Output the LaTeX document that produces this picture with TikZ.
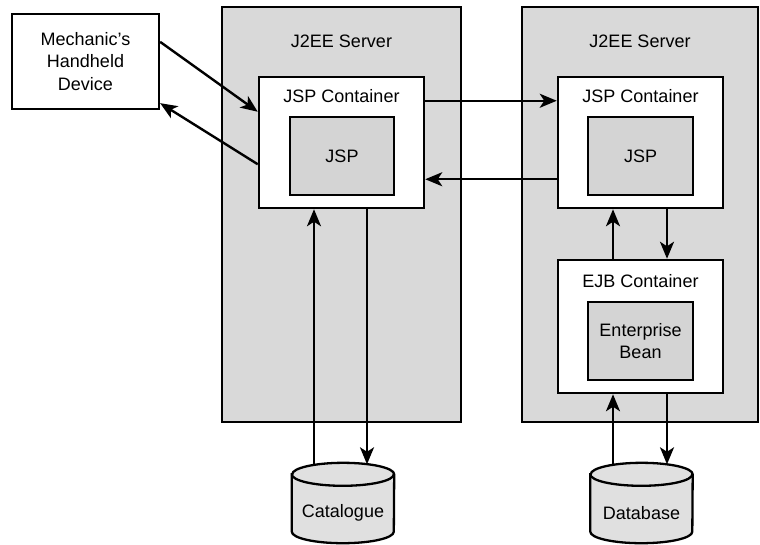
\documentclass[tikz,border=0pt]{standalone}
\usepackage{fontspec}
\setmainfont{Liberation Sans}
\usetikzlibrary{arrows.meta}
\definecolor{srvgray}{gray}{0.85}
\definecolor{boxgray}{gray}{0.83}
\definecolor{dbgray}{gray}{0.88}
\tikzset{
  lbl/.style={inner sep=0pt, font=\fontsize{18}{22.5}\selectfont, align=center},
  server/.style={draw, line width=2.3pt, fill=srvgray, inner sep=0pt},
  container/.style={draw, line width=2.5pt, fill=white, inner sep=0pt},
  comp/.style={draw, line width=2.5pt, fill=boxgray, inner sep=0pt, font=\fontsize{18}{22.5}\selectfont, align=center},
  device/.style={draw, line width=2.3pt, fill=white, inner sep=0pt, font=\fontsize{18}{22.5}\selectfont, align=center},
  dbbox/.style={inner sep=0pt, minimum width=102pt, minimum height=80pt},
  cyl/.style={draw, line width=2.3pt, fill=dbgray},
  arr/.style={line width=2.4pt, -{Stealth[length=17pt, width=14pt, inset=4.5pt]}},
}
\begin{document}
\begin{tikzpicture}[x=1pt, y=-1pt]
  \useasboundingbox (0,0) rectangle (760,544);

  % application servers
  \node[server, minimum width=239pt, minimum height=415pt] (lsrv) at (341.5,214.5) {};
  \node[server, minimum width=236pt, minimum height=415pt] (rsrv) at (640,214.5) {};
  \node[lbl] (lsrvt) at (341.5,41) {J2EE Server};
  \node[lbl] (rsrvt) at (640,41) {J2EE Server};

  % client device
  \node[device, minimum width=147pt, minimum height=95pt] (dev) at (85.5,61.5)
    {Mechanic’s\\Handheld\\Device};

  % JSP containers
  \node[container, minimum width=165pt, minimum height=131pt] (lcont) at (341.5,142.5) {};
  \node[lbl] (lcontt) at (341.5,96) {JSP Container};
  \node[comp, minimum width=104pt, minimum height=78pt] (ljsp) at (342,156) {JSP};

  \node[container, minimum width=165pt, minimum height=131pt] (rcont) at (640.5,142.5) {};
  \node[lbl] (rcontt) at (640.5,96) {JSP Container};
  \node[comp, minimum width=105pt, minimum height=78pt] (rjsp) at (640.5,156) {JSP};

  % EJB container
  \node[container, minimum width=165pt, minimum height=133pt] (ejb) at (640.5,326.5) {};
  \node[lbl] (ejbt) at (640.5,281) {EJB Container};
  \node[comp, minimum width=105pt, minimum height=78pt] (bean) at (640.5,341)
    {Enterprise\\Bean};

  % data stores
  \node[dbbox] (cat) at (343,503) {};
  \node[dbbox] (db) at (641.5,503) {};
  \foreach \n in {cat,db}{
    \draw[cyl] ([yshift=-11.5pt]\n.north west)
      -- ([yshift=11.5pt]\n.south west)
      arc[start angle=180, end angle=360, x radius=51pt, y radius=11.5pt]
      -- ([yshift=-11.5pt]\n.north east)
      arc[start angle=0, end angle=180, x radius=51pt, y radius=11.5pt]
      -- cycle;
    \draw[line width=2.3pt] ([yshift=-11.5pt]\n.north west)
      arc[start angle=180, end angle=360, x radius=51pt, y radius=11.5pt];
  }
  \node[lbl] (catt) at (343,513) {Catalogue};
  \node[lbl] (dbt) at (641.5,513) {Database};

  % device <-> JSP container
  \draw[arr] ([yshift=-29pt]dev.north east) -- ([yshift=-36pt]lcont.north west);
  \draw[arr] ([yshift=45pt]lcont.south west) -- ([yshift=7pt]dev.south east);

  % JSP container <-> JSP container
  \draw[arr] ([yshift=-25pt]lcont.north east) -- ([yshift=-25pt]rcont.north west);
  \draw[arr] ([yshift=30pt]rcont.south west) -- ([yshift=30pt]lcont.south east);

  % JSP container <-> catalogue
  \draw[arr] ([xshift=-29pt, yshift=-2pt]cat.north) -- ([xshift=-27.5pt]lcont.south);
  \draw[arr] ([xshift=25.5pt]lcont.south) -- ([xshift=24pt, yshift=-1.5pt]cat.north);

  % JSP container <-> EJB container
  \draw[arr] ([xshift=-27.5pt]ejb.north) -- ([xshift=-27.5pt]rcont.south);
  \draw[arr] ([xshift=26.5pt]rcont.south) -- ([xshift=26.5pt]ejb.north);

  % EJB container <-> database
  \draw[arr] ([xshift=-28.5pt, yshift=-2pt]db.north) -- ([xshift=-27.5pt]ejb.south);
  \draw[arr] ([xshift=26.5pt]ejb.south) -- ([xshift=25.5pt, yshift=-1.5pt]db.north);
\end{tikzpicture}
\end{document}
